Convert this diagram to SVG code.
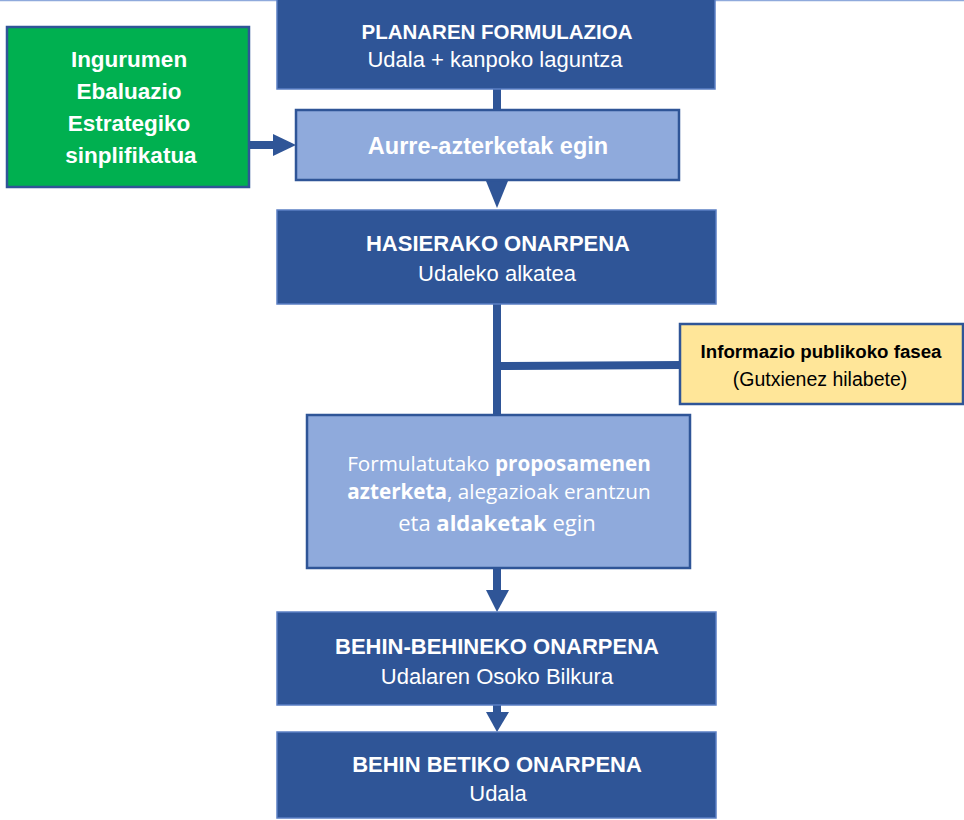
<svg xmlns="http://www.w3.org/2000/svg" width="964" height="820" viewBox="0 0 964 820">
<style>
.dark{fill:#2F5597;stroke:#5B7FC4;stroke-width:1.5}
.light{fill:#8FAADC;stroke:#2F5597;stroke-width:2.5}
.green{fill:#00B050;stroke:#2F5597;stroke-width:2.5}
.yellow{fill:#FFE699;stroke:#2F5597;stroke-width:2.5}
.conn{stroke:#2F5597;stroke-width:8;fill:none}
.head{fill:#2F5597}
text{font-family:"Liberation Sans",Arial,sans-serif;text-anchor:middle}
.t{fill:#FFFFFF;font-weight:bold;font-size:22px}
.s{fill:#FFFFFF;font-size:22px}
.g{fill:#FFFFFF;font-weight:bold;font-size:22.5px}
.yt{fill:#000000;font-weight:bold;font-size:18.7px}
.ys{fill:#000000;font-size:19.5px}
.m{fill:#FFFFFF;font-family:"Open Sans","Liberation Sans",sans-serif;font-size:20.7px}
.b{font-weight:bold}
</style>
<rect width="964" height="820" fill="#FFFFFF"/>
<line x1="0" y1="0.5" x2="964" y2="0.5" stroke="#8FAADC" stroke-width="1.5"/>
<g id="connectors">
<line class="conn" x1="497" y1="89" x2="497" y2="111"/>
<line class="conn" x1="249" y1="145" x2="275" y2="145"/>
<polygon class="head" points="273,134 273,156 296,145"/>
<polygon class="head" points="486,181 508,181 497,208"/>
<line class="conn" x1="497" y1="304" x2="497" y2="416"/>
<line class="conn" x1="497" y1="366" x2="681" y2="365"/>
<line class="conn" x1="497" y1="568" x2="497" y2="592"/>
<polygon class="head" points="486,590 509,590 497,612"/>
<line class="conn" x1="497" y1="705" x2="497" y2="714"/>
<polygon class="head" points="486,712 509,712 497,732"/>
</g>
<g id="node-planaren">
<rect class="dark" x="277" y="-2" width="438" height="91"/>
<text class="t" x="497" y="39" style="font-size:20.5px">PLANAREN FORMULAZIOA</text>
<text class="s" x="495" y="67">Udala + kanpoko laguntza</text>
</g>
<g id="node-ingurumen">
<rect class="green" x="7" y="27" width="242" height="160"/>
<text class="g" x="129" y="67">Ingurumen</text>
<text class="g" x="129" y="99">Ebaluazio</text>
<text class="g" x="129" y="131">Estrategiko</text>
<text class="g" x="131" y="163">sinplifikatua</text>
</g>
<g id="node-aurre">
<rect class="light" x="296" y="110" width="383" height="70"/>
<text class="t" x="488" y="154" style="font-size:23.5px">Aurre-azterketak egin</text>
</g>
<g id="node-hasierako">
<rect class="dark" x="277" y="210" width="439" height="94"/>
<text class="t" x="498" y="251">HASIERAKO ONARPENA</text>
<text class="s" x="497" y="281">Udaleko alkatea</text>
</g>
<g id="node-informazio">
<rect class="yellow" x="680" y="324" width="283" height="80"/>
<text class="yt" x="821" y="358">Informazio publikoko fasea</text>
<text class="ys" x="820" y="386">(Gutxienez hilabete)</text>
</g>
<g id="node-formulatutako">
<rect class="light" x="307" y="415" width="383" height="153"/>
<text class="m" x="499" y="471">Formulatutako <tspan class="b">proposamenen</tspan></text>
<text class="m" x="499" y="499"><tspan class="b">azterketa</tspan>, alegazioak erantzun</text>
<text class="m" x="497" y="531" style="font-size:22px">eta <tspan class="b">aldaketak</tspan> egin</text>
</g>
<g id="node-behin-behineko">
<rect class="dark" x="277" y="612" width="439" height="93"/>
<text class="t" x="497" y="654">BEHIN-BEHINEKO ONARPENA</text>
<text class="s" x="497" y="684">Udalaren Osoko Bilkura</text>
</g>
<g id="node-behin-betiko">
<rect class="dark" x="277" y="732" width="439" height="86"/>
<text class="t" x="497" y="772">BEHIN BETIKO ONARPENA</text>
<text class="s" x="498" y="801">Udala</text>
</g>
</svg>
